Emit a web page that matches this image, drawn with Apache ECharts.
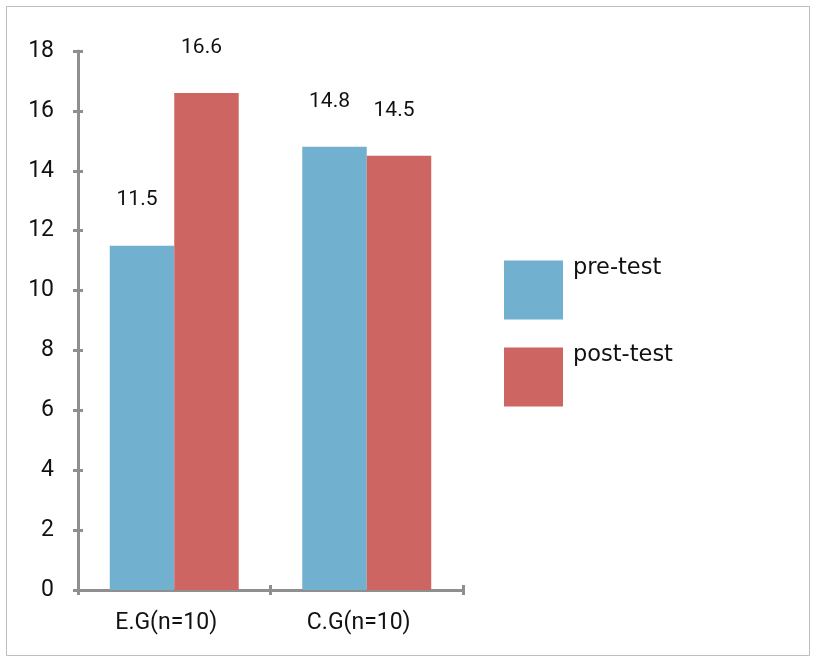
<!DOCTYPE html>
<html>
<head>
<meta charset="utf-8">
<script src="https://cdn.jsdelivr.net/npm/echarts@6/dist/echarts.min.js"></script>
<style>
  html, body { margin: 0; padding: 0; background: #fff; }
  #chart { width: 813px; height: 661px; }
</style>
</head>
<body>
<div id="chart"></div>
<script>
// Group scores before and after the test
const categories = ['E.G(n=10)', 'C.G(n=10)'];
const preTest = [11.5, 14.8];
const postTest = [16.6, 14.5];
const seriesNames = ['pre-test', 'post-test'];

const NUM_FONT = 'Roboto, "Noto Sans", sans-serif';
const TEXT_FONT = '"DejaVu Sans", sans-serif';
const AXIS_COLOR = '#8f8f8f';
const TEXT_COLOR = '#111';

const chart = echarts.init(document.getElementById('chart'));

const yBase = {
  type: 'value', min: 0, max: 18, interval: 2,
  splitLine: { show: false },
  axisLine: { show: true, lineStyle: { color: AXIS_COLOR, width: 3 } }
};

const labelCommon = {
  show: true, position: 'top', distance: 35, offset: [-5, 0],
  fontFamily: NUM_FONT, fontSize: 21, color: TEXT_COLOR
};

const legendText = { fontFamily: TEXT_FONT, fontSize: 22.5, color: TEXT_COLOR, lineHeight: 44 };

chart.setOption({
  animation: false,
  graphic: [{
    type: 'rect', shape: { x: 6.5, y: 6.5, width: 803, height: 649 },
    style: { fill: 'none', stroke: '#bdbdbd', lineWidth: 1 }, silent: true
  }],
  grid: { left: 78, right: 350, top: 51, bottom: 71 },
  legend: {
    orient: 'vertical', left: 504, top: 246, padding: 0,
    itemWidth: 59, itemHeight: 59, itemGap: -1,
    icon: 'rect',
    // second (empty) line lifts the name to the top part of the swatch
    formatter: name => '{t|' + name + '}\n{t|}',
    textStyle: Object.assign({}, legendText, {
      rich: { t: Object.assign({}, legendText, { padding: [0, 0, 0, 5] }) }
    }),
    data: seriesNames
  },
  xAxis: [{
    type: 'category', data: categories,
    axisLine: { lineStyle: { color: AXIS_COLOR, width: 3 } },
    axisTick: { show: true, length: 5, lineStyle: { color: AXIS_COLOR, width: 3 } },
    axisLabel: { fontFamily: NUM_FONT, fontSize: 23, color: TEXT_COLOR, margin: 22, padding: [0, 16, 0, 0] }
  }, {
    type: 'category', data: categories, position: 'bottom',
    axisLine: { show: false },
    axisTick: { show: true, inside: true, length: 5, lineStyle: { color: AXIS_COLOR, width: 3 } },
    axisLabel: { show: false }
  }],
  yAxis: [Object.assign({}, yBase, {
    axisTick: { show: true, length: 5, lineStyle: { color: AXIS_COLOR, width: 3 } },
    axisLabel: { fontFamily: NUM_FONT, fontSize: 23, color: TEXT_COLOR, margin: 24, padding: [5, 0, 0, 0] }
  }), Object.assign({}, yBase, {
    position: 'left',
    axisLine: { show: false },
    axisTick: { show: true, inside: true, length: 5, lineStyle: { color: AXIS_COLOR, width: 3 } },
    axisLabel: { show: false }
  })],
  series: [{
    name: seriesNames[0], type: 'bar', data: preTest,
    barCategoryGap: '33%', barGap: '0%',
    itemStyle: { color: '#72B0D0' },
    label: labelCommon
  }, {
    name: seriesNames[1], type: 'bar', data: postTest,
    barCategoryGap: '33%', barGap: '0%',
    itemStyle: { color: '#CD6563' },
    label: labelCommon
  }]
});
</script>
</body>
</html>
